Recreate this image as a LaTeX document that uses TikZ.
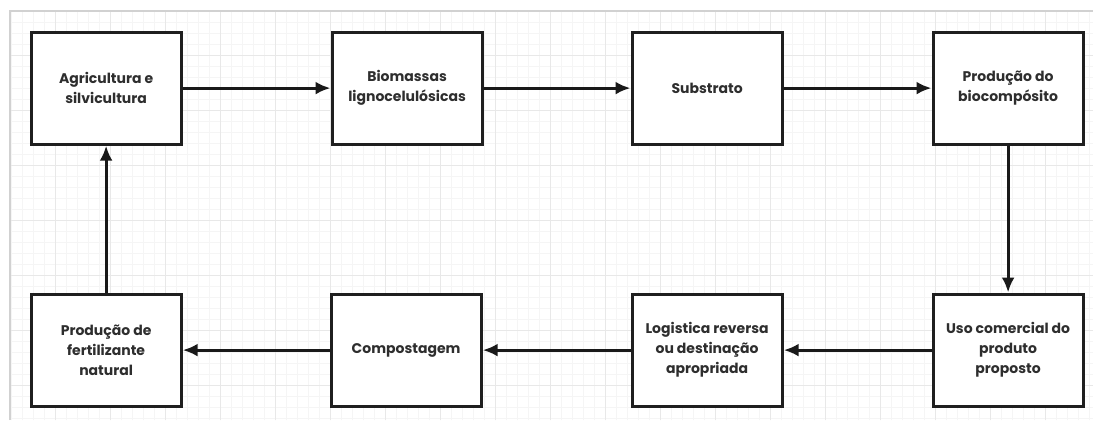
\documentclass[tikz,border=0pt]{standalone}
\usepackage{fontspec}
\setmainfont{Poppins}
\usetikzlibrary{arrows.meta}
\definecolor{txt}{HTML}{2E2E2E}
\tikzset{
  stepbox/.style={draw=black!88, line width=3.2pt, fill=white, minimum width=150pt, minimum height=112pt,
    inner sep=0pt, align=center, font=\fontsize{14}{20}\selectfont\bfseries, text=txt, anchor=north west},
  flow/.style={line width=3pt, draw=black!90, -{Latex[length=15pt,width=13pt]}}
}
\begin{document}
\begin{tikzpicture}[x=1pt,y=-1pt]
\useasboundingbox (0,0) rectangle (1093,423);
\fill[white] (0,0) rectangle (1093,423);
% grid
\draw[black!4, line width=0.6pt, step=11pt] (10,11) grid (1093,420);
\draw[black!9, line width=0.8pt, step=55pt] (10,11) grid (1093,420);
% frame
\draw[black!18, line width=1.2pt] (10,420) -- (10,11) -- (1093,11);
% nodes
\node[stepbox] (a) at (29.5,30.5) {Agricultura e\\silvicultura};
\node[stepbox] (b) at (330.5,30.5) {Biomassas\\lignocelulósicas};
\node[stepbox] (c) at (630.5,30.5) {Substrato};
\node[stepbox] (d) at (931.5,30.5) {Produção do\\biocompósito};
\node[stepbox] (e) at (931.5,292.5) {Uso comercial do\\produto\\proposto};
\node[stepbox] (f) at (630.5,292.5) {Logistica reversa\\ou destinação\\apropriada};
\node[stepbox] (g) at (329.5,292.5) {Compostagem};
\node[stepbox] (h) at (29.5,292.5) {Produção de\\fertilizante\\natural};
% connectors
\draw[flow] (a) -- (b);
\draw[flow] (b) -- (c);
\draw[flow] (c) -- (d);
\draw[flow] (d) -- (e);
\draw[flow] (e) -- (f);
\draw[flow] (f) -- (g);
\draw[flow] (g) -- (h);
\draw[flow] (h) -- (a);
\end{tikzpicture}
\end{document}
